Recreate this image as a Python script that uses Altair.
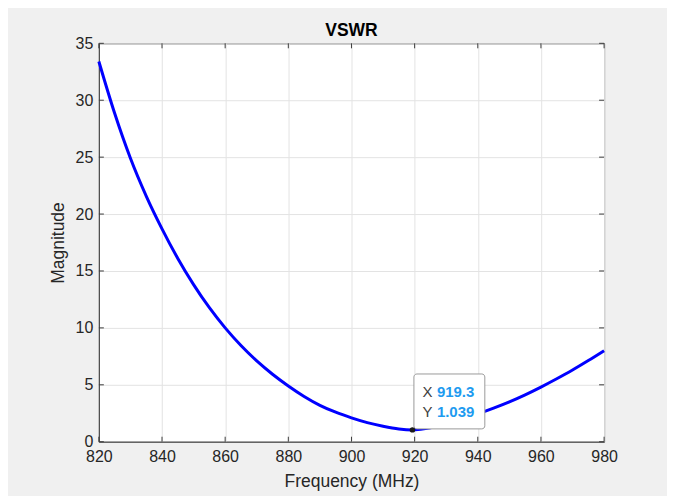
import altair as alt
import pandas as pd

# ---- data ----
freq = [820, 825, 830, 835, 840, 845, 850, 855, 860, 865, 870, 875, 880, 885,
        890, 895, 900, 905, 910, 915, 919.3, 925, 930, 935, 940, 945, 950, 955,
        960, 965, 970, 975, 980]
vswr = [33.4, 28.85, 24.9, 21.58, 18.7, 16.1, 13.8, 11.77, 10.0, 8.45, 7.1, 5.93,
        4.9, 3.98, 3.2, 2.59, 2.1, 1.68, 1.36, 1.12, 1.039, 1.22, 1.6, 2.0, 2.45,
        2.95, 3.5, 4.12, 4.8, 5.53, 6.3, 7.13, 8.0]
xticks = [820, 840, 860, 880, 900, 920, 940, 960, 980]
yticks = [0, 5, 10, 15, 20, 25, 30, 35]
marker_x = 919.3
marker_y = 1.039

W, H = 506, 399
FONT = "Liberation Sans"
AX = "#3c3c3c"
TXT = "#262626"

df = pd.DataFrame({"f": freq, "v": vswr})
xscale = alt.Scale(domain=[820, 980], nice=False, zero=False)
yscale = alt.Scale(domain=[0, 35], nice=False, zero=True)

xax = alt.Axis(values=xticks, format="d", grid=True, ticks=False, labelPadding=7,
               title="Frequency (MHz)", titlePadding=8, labelFlush=False)
yax = alt.Axis(values=yticks, format="d", grid=True, ticks=False, labelPadding=6,
               title="Magnitude", titlePadding=8, labelFlush=False)

X = lambda: alt.X("f:Q", scale=xscale, axis=xax)
Y = lambda: alt.Y("v:Q", scale=yscale, axis=yax)

line = alt.Chart(df).mark_line(color="#0000ff", strokeWidth=3,
                               interpolate="monotone").encode(x=X(), y=Y())

dfx = pd.DataFrame({"f": xticks})
dfy = pd.DataFrame({"v": yticks})
tick_b = alt.Chart(dfx).mark_rule(color=AX, strokeWidth=1).encode(
    x=X(), y=alt.value(H), y2=alt.value(H - 5))
tick_t = alt.Chart(dfx).mark_rule(color=AX, strokeWidth=1).encode(
    x=X(), y=alt.value(0), y2=alt.value(5))
tick_l = alt.Chart(dfy).mark_rule(color=AX, strokeWidth=1).encode(
    y=Y(), x=alt.value(0), x2=alt.value(5))
tick_r = alt.Chart(dfy).mark_rule(color=AX, strokeWidth=1).encode(
    y=Y(), x=alt.value(W), x2=alt.value(W - 5))

mdf = pd.DataFrame({"f": [marker_x], "v": [marker_y],
                    "xl": [f"{marker_x}"], "yl": [f"{marker_y}"]})
box = alt.Chart(mdf).mark_rect(width=71, height=55, xOffset=37, yOffset=-28.5,
                               fill="white", stroke="#9a9a9a", strokeWidth=1,
                               cornerRadius=3).encode(x=X(), y=Y())
dot = alt.Chart(mdf).mark_circle(size=30, color="#1a1a1a", opacity=1).encode(x=X(), y=Y())
tx_lbl = alt.Chart(mdf).mark_text(text="X", align="left", baseline="middle", dx=10, dy=-38,
                                  fontSize=15, font=FONT, color="#404040").encode(x=X(), y=Y())
ty_lbl = alt.Chart(mdf).mark_text(text="Y", align="left", baseline="middle", dx=10, dy=-18,
                                  fontSize=15, font=FONT, color="#404040").encode(x=X(), y=Y())
tx_val = alt.Chart(mdf).mark_text(align="left", baseline="middle", dx=24.5, dy=-38,
                                  fontSize=15, font=FONT, fontWeight="bold",
                                  color="#1e9bf0").encode(x=X(), y=Y(), text="xl:N")
ty_val = alt.Chart(mdf).mark_text(align="left", baseline="middle", dx=24.5, dy=-18,
                                  fontSize=15, font=FONT, fontWeight="bold",
                                  color="#1e9bf0").encode(x=X(), y=Y(), text="yl:N")

chart = alt.layer(line, tick_b, tick_t, tick_l, tick_r, dot, box,
                  tx_lbl, ty_lbl, tx_val, ty_val).properties(
    width=W, height=H,
    title=alt.TitleParams("VSWR", fontSize=17.5, fontWeight="bold", font=FONT,
                          color="#000000", offset=-4),
    padding={"left": 91, "top": 35, "right": 63, "bottom": 54},
    autosize="none",
).configure(background="#f0f0f0").configure_view(
    fill="white", stroke=AX, strokeWidth=1
).configure_axis(
    labelFont=FONT, labelFontSize=16, labelColor=TXT,
    titleFont=FONT, titleFontSize=17.5, titleColor=TXT, titleFontWeight="normal",
    domainColor=AX, domainWidth=1, gridColor="#e3e3e3", gridWidth=1,
)

chart.save("out.html", embed_options={"renderer": "svg", "actions": False})
